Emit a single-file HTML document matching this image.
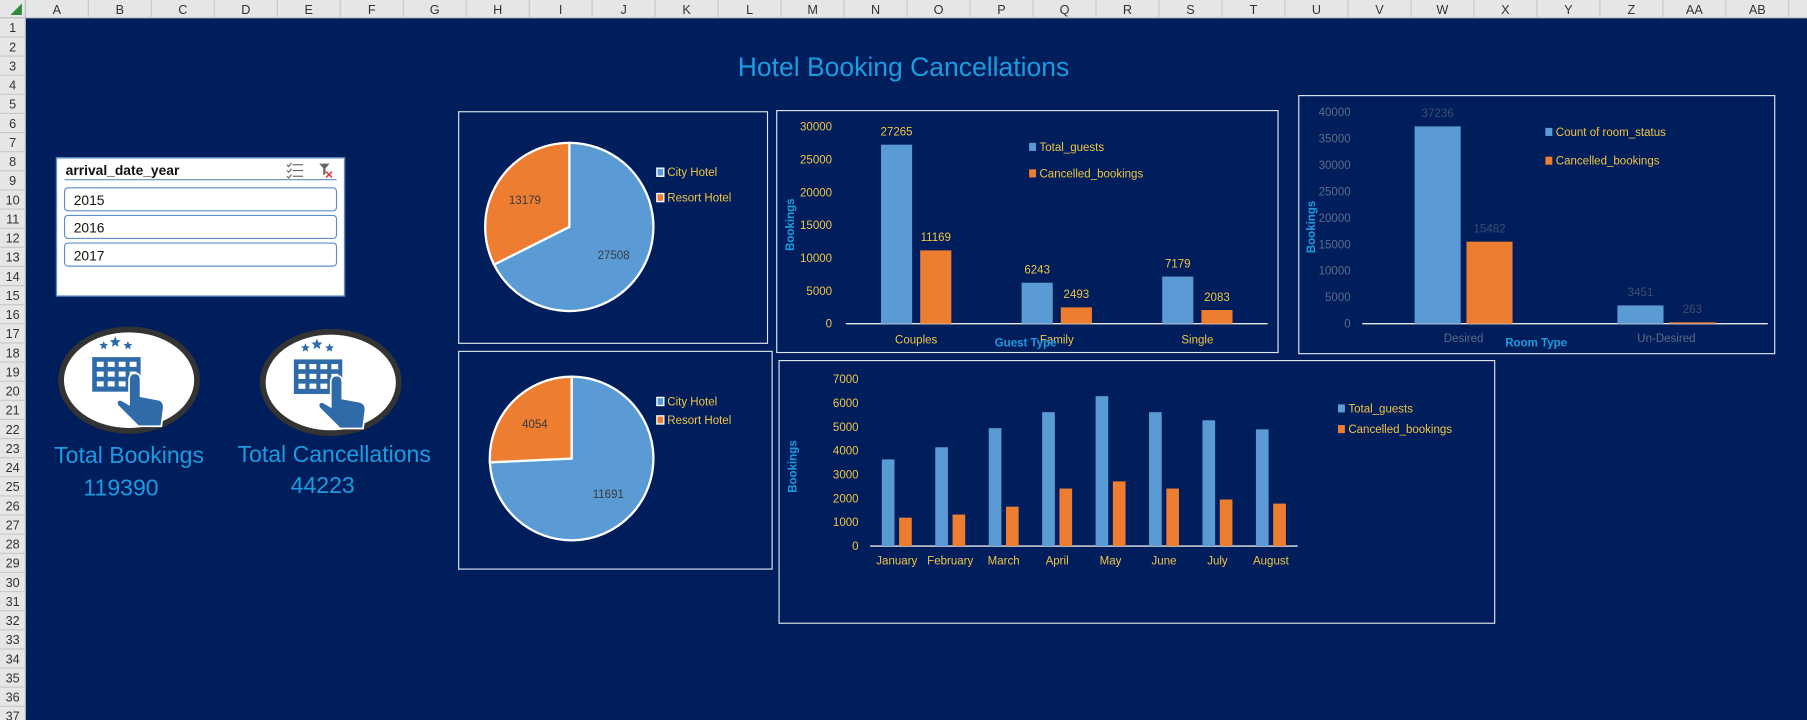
<!DOCTYPE html>
<html><head><meta charset="utf-8"><style>
html,body{margin:0;padding:0;background:#001e5c;overflow:hidden}
svg{display:block}
text{font-family:"Liberation Sans",sans-serif}
</style></head><body>
<svg id="root" width="1807" height="720" viewBox="0 0 1568 625" preserveAspectRatio="none" xmlns="http://www.w3.org/2000/svg">
<rect x="0" y="0" width="1568" height="625" fill="#001e5c"/>
<g id="grid"></g>
<text x="784" y="66" text-anchor="middle" font-size="23" fill="#1e9be0">Hotel Booking Cancellations</text>

<g>
<rect x="49" y="137" width="250" height="120" fill="#fff" stroke="#5b8fc7" stroke-width="1.2"/>
<text x="57" y="152" font-size="12" font-weight="bold" fill="#111">arrival_date_year</text>
<line x1="56" y1="156" x2="292" y2="156" stroke="#5b8fc7"/>
<g stroke="#666" stroke-width="1"><line x1="254" y1="143" x2="263" y2="143"/><line x1="254" y1="148" x2="263" y2="148"/><line x1="254" y1="153" x2="263" y2="153"/><path d="M249 143l1.5 1.5 2.5-3M249 148l1.5 1.5 2.5-3M249 153l1.5 1.5 2.5-3" fill="none"/></g>
<g><path d="M277 142h9l-3.5 4v5l-2 1v-6z" fill="#666"/><path d="M283 149l5 5M288 149l-5 5" stroke="#e03030" stroke-width="1.3"/></g>
<g><rect x="56" y="163" width="236" height="20" rx="3" fill="#fff" stroke="#5b8fc7"/><text x="64" y="178" font-size="12" fill="#111">2015</text></g>
<g><rect x="56" y="187" width="236" height="20" rx="3" fill="#fff" stroke="#5b8fc7"/><text x="64" y="202" font-size="12" fill="#111">2016</text></g>
<g><rect x="56" y="211" width="236" height="20" rx="3" fill="#fff" stroke="#5b8fc7"/><text x="64" y="226" font-size="12" fill="#111">2017</text></g>
</g>

<g id="icon1"></g>
<g id="icon2"></g>
<text x="112" y="402" text-anchor="middle" font-size="20" fill="#1e9be0">Total Bookings</text>
<text x="105" y="430" text-anchor="middle" font-size="20" fill="#1e9be0">119390</text>
<text x="290" y="401" text-anchor="middle" font-size="20" fill="#1e9be0">Total Cancellations</text>
<text x="280" y="428" text-anchor="middle" font-size="20" fill="#1e9be0">44223</text>

<g id="pie1"></g>
<g id="pie2"></g>
<g id="bar1"></g>
<g id="bar2"></g>
<g id="bar3"></g>
</svg>
<script>
const NS='http://www.w3.org/2000/svg';
const BLUE='#5b9bd5',ORANGE='#ed7d31',YEL='#f0c445',TITLE='#1e9be0';
// ---- data ----
const pieLabels=['City Hotel','Resort Hotel'];
const pie1Values=[27508,13179];
const pie2Values=[11691,4054];
const guestCats=['Couples','Family','Single'];
const guestTotal=[27265,6243,7179];
const guestCancel=[11169,2493,2083];
const guestTicks=[0,5000,10000,15000,20000,25000,30000];
const roomCats=['Desired','Un-Desired'];
const roomCount=[37236,3451];
const roomCancel=[15482,263];
const roomTicks=[0,5000,10000,15000,20000,25000,30000,35000,40000];
const months=['January','February','March','April','May','June','July','August'];
const monthTotal=[3630,4140,4940,5610,6280,5610,5270,4890];
const monthCancel=[1190,1320,1650,2410,2710,2410,1950,1780];
const monthTicks=[0,1000,2000,3000,4000,5000,6000,7000];

function el(tag,attrs,parent,txt){const e=document.createElementNS(NS,tag);for(const k in attrs)e.setAttribute(k,attrs[k]);if(txt!==undefined)e.textContent=txt;parent.appendChild(e);return e;}

// sheet headers
(function(){
const g=document.getElementById('grid');
el('rect',{x:0,y:0,width:1568,height:15.5,fill:'#e6e6e6'},g);
el('rect',{x:0,y:0,width:22,height:625,fill:'#e6e6e6'},g);
el('line',{x1:0,y1:15.5,x2:1568,y2:15.5,stroke:'#bbb'},g);
el('line',{x1:22,y1:0,x2:22,y2:625,stroke:'#bbb'},g);
el('path',{d:'M19 3L19 13L9 13Z',fill:'#2e8b3e'},g);
const cols=['A','B','C','D','E','F','G','H','I','J','K','L','M','N','O','P','Q','R','S','T','U','V','W','X','Y','Z','AA','AB'];
const cw=54.65;
for(let i=0;i<cols.length;i++){const x=22+i*cw;
 el('line',{x1:x+cw,y1:0,x2:x+cw,y2:15.5,stroke:'#c8c8c8'},g);
 const t=el('text',{x:x+cw/2,y:12,'text-anchor':'middle','font-size':11,fill:'#333'},g,cols[i]);
 
 }
for(let r=1;r<=37;r++){const y=15.5+(r-1)*16.6;
 el('line',{x1:0,y1:y+16.6,x2:22,y2:y+16.6,stroke:'#c8c8c8'},g);
 const t=el('text',{x:11,y:y+12.5,'text-anchor':'middle','font-size':11,fill:'#333'},g,String(r));
 
 }
})();

// hotel icons
function icon(id,cx,cy){const g=document.getElementById(id);
 el('ellipse',{cx:cx,cy:cy,rx:59,ry:44,fill:'#fff',stroke:'#333',"stroke-width":5},g);
 const c='#2e6ba8';
 [[-22,-30,4],[-12,-33,5],[-1,-30,4]].forEach(s=>{const [dx,dy,r]=s;let p='';for(let k=0;k<10;k++){const a=-Math.PI/2+k*Math.PI/5,rr=k%2?r*0.45:r;p+=(k?'L':'M')+(cx+dx+rr*Math.cos(a))+' '+(cy+dy+rr*Math.sin(a));}el('path',{d:p+'Z',fill:c},g);});
 el('rect',{x:cx-32,y:cy-20,width:42,height:30,fill:c},g);
 for(let r=0;r<3;r++)for(let q=0;q<4;q++)el('rect',{x:cx-28+q*9.5,y:cy-16+r*8.5,width:6,height:4.5,fill:'#fff'},g);
 el('path',{d:`M${cx} ${cy} q0 -6 5 -6 q5 0 5 6 v14 l16 3 q5 2 4 8 l-2 15 h-20 l-18 -18 q-2 -5 3 -5 l7 4 z`,fill:c,stroke:'#fff','stroke-width':1.5},g);
}
icon('icon1',112,330);icon('icon2',287,332);

function legendItem(g,x,y,color,label,sw,tcol){
 const it=el('g',{},g);
 
 
 el('rect',{x:x,y:y-7,width:6,height:7,fill:color,stroke:sw?'#fff':'none','stroke-width':sw?1.2:0},it);
 el('text',{x:x+9,y:y,'font-size':10,fill:tcol||YEL},it,label);
}

function pie(id,box,cx,cy,r,vals,lblPos,legY){
 const g=document.getElementById(id);
 el('rect',{x:box[0],y:box[1],width:box[2],height:box[3],fill:'none',stroke:'#dfe6f0','stroke-width':1},g);
 const total=vals[0]+vals[1];
 const cols=[BLUE,ORANGE];
 let a0=0;
 for(let i=0;i<2;i++){const a1=a0+vals[i]/total*2*Math.PI;
  const p=(a)=>[cx+r*Math.sin(a),cy-r*Math.cos(a)];
  const s=p(a0),e=p(a1),large=(a1-a0)>Math.PI?1:0;
  const sl=el('path',{d:`M${cx} ${cy}L${s[0]} ${s[1]}A${r} ${r} 0 ${large} 1 ${e[0]} ${e[1]}Z`,fill:cols[i],stroke:'#fff','stroke-width':2},g);
  
  
  const mid=(a0+a1)/2;
  const t=el('text',{x:cx+r*0.62*Math.sin(mid),y:cy-r*0.62*Math.cos(mid)+4,'text-anchor':'middle','font-size':10,fill:'#3a3a3a'},g,String(vals[i]));
  
  
  a0=a1;}
 legendItem(g,570,legY,BLUE,pieLabels[0],true);
 legendItem(g,570,legY+(id==='pie1'?22:16),ORANGE,pieLabels[1],true);
}
pie('pie1',[398,97,268,201],494,197,73,pie1Values,null,153);
pie('pie2',[398,305,272,189],496,398,71,pie2Values,null,352);

function bars(id,o){
 const g=document.getElementById(id);
 el('rect',{x:o.box[0],y:o.box[1],width:o.box[2],height:o.box[3],fill:'none',stroke:'#dfe6f0','stroke-width':1},g);
 const max=o.ticks[o.ticks.length-1];
 const yS=v=>o.y0-(v/max)*(o.y0-o.yTop);
 const cw=(o.x1-o.x0)/o.cats.length;
 o.ticks.forEach(t=>{const tx=el('text',{x:o.tickX,y:yS(t)+3.5,'text-anchor':'end','font-size':10,fill:o.tickCol},g,String(t));
  
  });
 el('line',{x1:o.x0,y1:o.y0,x2:o.x1,y2:o.y0,stroke:'#e8e8e8','stroke-width':1.2},g);
 o.cats.forEach((c,i)=>{const cx=o.x0+cw*(i+0.5);
  const series=[o.s1,o.s2],cols=[BLUE,ORANGE];
  for(let k=0;k<2;k++){const v=series[k][i];const bx=k===0?cx-o.gap/2-o.bw:cx+o.gap/2;
   const b=el('rect',{x:bx,y:yS(v),width:o.bw,height:o.y0-yS(v),fill:cols[k]},g);
   
   
   if(o.showVals){const t=el('text',{x:bx+o.bw/2,y:yS(v)-8,'text-anchor':'middle','font-size':10,fill:o.valCol},g,String(v));
    
    }}
  const xl=el('text',{x:cx,y:o.y0+o.xlOff,'text-anchor':'middle','font-size':10,fill:o.tickCol},g,c);
  
  });
 const yt=el('text',{x:o.ytX,y:o.ytY,'text-anchor':'middle','font-size':10,'font-weight':'bold',fill:TITLE,transform:`rotate(-90 ${o.ytX} ${o.ytY})`},g,'Bookings');
 
 
 if(o.xt){const xt=el('text',{x:o.xt[0],y:o.xt[1],'text-anchor':'middle','font-size':10,'font-weight':'bold',fill:TITLE},g,o.xt[2]);
  
  }
 legendItem(g,o.leg[0],o.leg[1],BLUE,o.legNames[0],false,o.legCol);
 legendItem(g,o.leg[0],o.leg[1]+o.leg[2],ORANGE,o.legNames[1],false,o.legCol);
}
bars('bar1',{box:[674,96,435,210],cats:guestCats,s1:guestTotal,s2:guestCancel,ticks:guestTicks,y0:281,yTop:110,x0:734,x1:1100,bw:27,gap:7,tickX:722,tickCol:YEL,valCol:YEL,showVals:true,xlOff:17,ytX:689,ytY:195,xt:[890,301,'Guest Type'],leg:[893,131,23],legNames:['Total_guests','Cancelled_bookings'],legCol:YEL});
bars('bar2',{box:[1127,83,413,224],cats:roomCats,s1:roomCount,s2:roomCancel,ticks:roomTicks,y0:281,yTop:97,x0:1182,x1:1534,bw:40,gap:5,tickX:1172,tickCol:'#5d6b86',valCol:'#3e4d6d',showVals:true,xlOff:16,ytX:1141,ytY:197,xt:[1333,301,'Room Type'],leg:[1341,118,25],legNames:['Count of room_status','Cancelled_bookings'],legCol:YEL});
bars('bar3',{box:[676,313,621,228],cats:months,s1:monthTotal,s2:monthCancel,ticks:monthTicks,y0:474,yTop:329,x0:755,x1:1126,bw:11,gap:4,tickX:745,tickCol:YEL,valCol:YEL,showVals:false,xlOff:16,ytX:691,ytY:405,xt:null,leg:[1161,358,18],legNames:['Total_guests','Cancelled_bookings'],legCol:YEL});
</script>
</body></html>
